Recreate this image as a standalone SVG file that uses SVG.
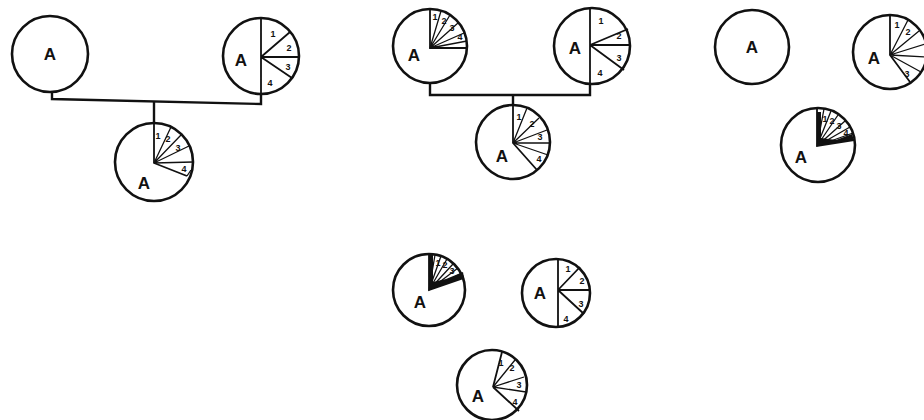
<svg xmlns="http://www.w3.org/2000/svg" width="924" height="420" viewBox="0 0 924 420">
<style>
.c{fill:none;stroke:#111;stroke-width:2.6}
.s{fill:none;stroke:#111;stroke-width:1.8}
.f{fill:none;stroke:#111;stroke-width:1.3}
.k{fill:none;stroke:#111;stroke-width:2.4}
.d{fill:#111}
.a{font-family:"Liberation Sans",Arial,sans-serif;font-size:17px;font-weight:bold;fill:#111;text-anchor:middle}
.n{font-family:"Liberation Sans",Arial,sans-serif;font-size:9px;font-weight:bold;fill:#111;text-anchor:middle}
</style>
<rect width="924" height="420" fill="#fff"/>
<g id="connectors">
<path class="k" d="M52,92 V99 L261,104 V94"/>
<path class="k" d="M154,101 V124"/>
<path class="k" d="M430,83 V95 H590 V84"/>
<path class="k" d="M513,95 V105"/>
</g>
<g id="p1-left">
<circle class="c" cx="50" cy="54" r="38"/>
<text class="a" x="50" y="60">A</text>
</g>
<g id="p1-right">
<circle class="c" cx="261" cy="56" r="38"/>
<path class="s" d="M261,18 V94 M261,57 L290,32 M261,57 H299 M261,57 L292,78"/>
<text class="a" x="241" y="66">A</text>
<text class="n" x="273" y="37">1</text>
<text class="n" x="289" y="51">2</text>
<text class="n" x="288" y="70">3</text>
<text class="n" x="270" y="86">4</text>
</g>
<g id="p1-bottom">
<circle class="c" cx="154" cy="162" r="39"/>
<path class="s" d="M154,123 V163 L187,176"/>
<path class="f" d="M154,163 L171,127 M154,163 L181,135 M154,163 L189,146 M154,163 L193,162 M187,176 L191,170"/>
<text class="n" x="158" y="139">1</text>
<text class="n" x="168" y="142">2</text>
<text class="n" x="178" y="151">3</text>
<text class="n" x="184" y="172">4</text>
<text class="a" x="144" y="189">A</text>
</g>
<g id="p2-topleft">
<circle class="c" cx="430" cy="46" r="37"/>
<path class="s" d="M430,9 V48 H467"/>
<path class="f" d="M430,48 L441,11 M430,48 L450,15 M430,48 L458,23 M430,48 L464,33 M430,48 L467,41"/>
<text class="n" x="435" y="20">1</text>
<text class="n" x="444" y="24">2</text>
<text class="n" x="452" y="31">3</text>
<text class="n" x="460" y="40">4</text>
<text class="a" x="414" y="61">A</text>
</g>
<g id="p2-topright">
<circle class="c" cx="592" cy="46" r="38"/>
<path class="s" d="M590,8 V84 M590,45 L628,29 M590,45 H630 M590,45 L624,70"/>
<text class="n" x="601" y="24">1</text>
<text class="n" x="619" y="39">2</text>
<text class="n" x="619" y="61">3</text>
<text class="n" x="600" y="76">4</text>
<text class="a" x="575" y="54">A</text>
</g>
<g id="p2-bottom">
<circle class="c" cx="513" cy="142" r="37"/>
<path class="s" d="M513,105 V143 L537,170"/>
<path class="f" d="M513,143 L527,108 M513,143 L539,118 M513,143 L547,130 M513,143 L550,143 M513,143 L548,155"/>
<text class="n" x="519" y="120">1</text>
<text class="n" x="532" y="127">2</text>
<text class="n" x="540" y="140">3</text>
<text class="n" x="539" y="162">4</text>
<text class="a" x="502" y="162">A</text>
</g>
<g id="p3-left">
<circle class="c" cx="752" cy="47" r="37"/>
<text class="a" x="752" y="53">A</text>
</g>
<g id="p3-right">
<circle class="c" cx="890" cy="52" r="37"/>
<path class="s" d="M890,15 V55 L910,82"/>
<path class="f" d="M890,55 L908,20 M890,55 L919,31 M890,55 L925,44 M890,55 L926,57 M890,55 L921,72"/>
<text class="n" x="897" y="28">1</text>
<text class="n" x="908" y="35">2</text>
<text class="n" x="907" y="77">3</text>
<text class="a" x="874" y="64">A</text>
</g>
<g id="p3-bottom">
<circle class="c" cx="818" cy="145" r="37"/>
<path class="d" d="M817,146 L817,112 L821,112 L821,138 L836,140 L852,134 L854,140 Z"/>
<path class="s" d="M817,108 V146 L854,140"/>
<path class="f" d="M817,146 L824,109 M817,146 L831,111 M817,146 L838,115 M817,146 L845,121 M817,146 L850,127 M817,146 L853,133"/>
<text class="n" x="825" y="122">1</text>
<text class="n" x="832" y="124">2</text>
<text class="n" x="839" y="129">3</text>
<text class="n" x="846" y="136">4</text>
<text class="a" x="801" y="163">A</text>
</g>
<g id="b-left">
<circle class="c" cx="429" cy="290" r="36"/>
<path class="d" d="M429,290 L429,255 L433,255 L433,282 L446,279 L463,272 L464,278 Z"/>
<path class="s" d="M429,254 V290 L464,278"/>
<path class="f" d="M429,290 L435,255 M429,290 L441,256 M429,290 L447,259 M429,290 L453,264 M429,290 L458,268 M429,290 L462,273"/>
<text class="n" x="438" y="266">1</text>
<text class="n" x="445" y="268">2</text>
<text class="n" x="452" y="274">3</text>
<text class="a" x="420" y="308">A</text>
</g>
<g id="b-right">
<circle class="c" cx="556" cy="293" r="34"/>
<path class="s" d="M558,259 V327 M558,290 L580,267 M558,290 H590 M558,290 L584,314"/>
<text class="n" x="568" y="272">1</text>
<text class="n" x="582" y="284">2</text>
<text class="n" x="581" y="307">3</text>
<text class="n" x="566" y="322">4</text>
<text class="a" x="540" y="299">A</text>
</g>
<g id="b-bottom">
<circle class="c" cx="492" cy="385" r="35"/>
<path class="s" d="M493,387 L502,352 M493,387 L519,411"/>
<path class="f" d="M493,387 L515,360 M493,387 L524,377 M493,387 L526,392"/>
<text class="n" x="501" y="366">1</text>
<text class="n" x="512" y="371">2</text>
<text class="n" x="519" y="388">3</text>
<text class="n" x="515" y="405">4</text>
<text class="a" x="478" y="402">A</text>
</g>
</svg>
